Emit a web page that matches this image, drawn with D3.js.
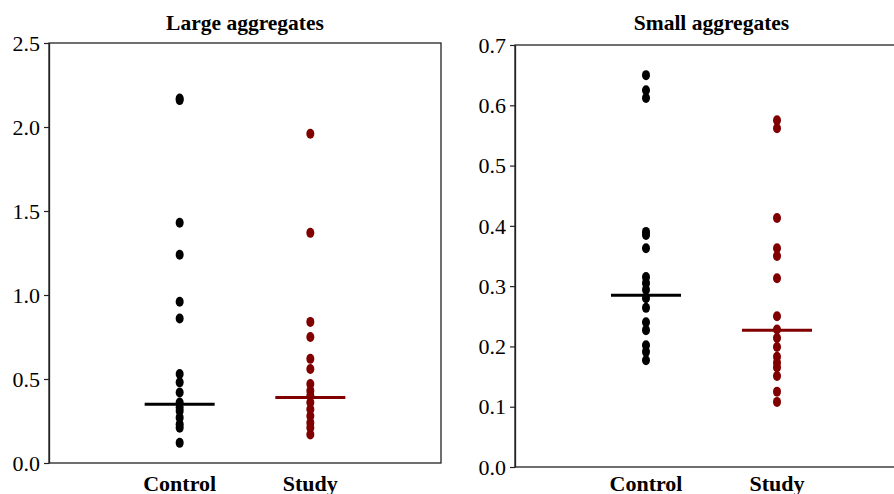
<!DOCTYPE html>
<html>
<head>
<meta charset="utf-8">
<script src="https://cdn.jsdelivr.net/npm/d3@7"></script>
<style>
  body { margin: 0; background: #fff; }
  svg { display: block; }
  svg text { font-family: "Liberation Serif", "Times New Roman", Times, "DejaVu Serif", serif; fill: #000; }
  .title, .cat { font-weight: bold; }
</style>
</head>
<body>
<div id="canvas"></div>
<script>
// categories on the x axis
var groups = ['Control', 'Study'];

// Large aggregates
var largeControl = [2.17, 2.16, 1.43, 1.24, 0.96, 0.86, 0.53, 0.48, 0.42, 0.36, 0.33, 0.31, 0.27, 0.23, 0.21, 0.12];
var largeStudy   = [1.96, 1.37, 0.84, 0.75, 0.62, 0.56, 0.47, 0.43, 0.40, 0.36, 0.32, 0.28, 0.24, 0.21, 0.17];
var largeLines   = [0.35, 0.39];
var largeTicks   = [0, 0.5, 1, 1.5, 2, 2.5];

// Small aggregates
var smallControl = [0.65, 0.625, 0.612, 0.39, 0.385, 0.363, 0.315, 0.305, 0.294, 0.28, 0.264, 0.24, 0.227, 0.202, 0.191, 0.177];
var smallStudy   = [0.575, 0.562, 0.413, 0.363, 0.35, 0.313, 0.25, 0.228, 0.214, 0.199, 0.183, 0.173, 0.165, 0.151, 0.125, 0.108];
var smallLines   = [0.285, 0.227];
var smallTicks   = [0, 0.1, 0.2, 0.3, 0.4, 0.5, 0.6, 0.7];

var colors = ['#000000', '#800000'];
var serif = '"Liberation Serif", "Times New Roman", Times, "DejaVu Serif", serif';

var svg = d3.select('#canvas').append('svg')
    .attr('width', 894).attr('height', 494);

function panel(opt) {
    var x0 = opt.x, y0 = opt.y, w = opt.w, h = opt.h;
    var g = svg.append('g').attr('transform', 'translate(' + x0 + ',' + y0 + ')');

    var x = d3.scalePoint().domain(groups).range([0, w]).padding(1);
    var y = d3.scaleLinear().domain([0, opt.max]).range([h, 0]);

    // frame
    g.append('rect')
        .attr('width', w).attr('height', h)
        .attr('fill', 'none').attr('stroke', '#222').attr('stroke-width', 1.3);

    // y axis
    var yAxis = g.append('g')
        .call(d3.axisLeft(y).tickValues(opt.ticks).tickFormat(d3.format('.1f')).tickSizeInner(5).tickSizeOuter(0));
    yAxis.attr('font-family', null).attr('font-size', null);
    yAxis.select('.domain').attr('stroke', '#222').attr('stroke-width', 1.3);
    yAxis.selectAll('.tick line').attr('stroke', '#222').attr('stroke-width', 1.2);
    yAxis.selectAll('.tick text')
        .attr('x', -9).attr('dy', '0.33em')
        .style('font-size', '22px').style('font-family', serif).attr('fill', '#000');

    // x labels
    g.selectAll('.cat').data(groups).enter().append('text')
        .attr('class', 'cat')
        .attr('x', function(d){ return x(d); })
        .attr('y', 491 - y0)
        .attr('text-anchor', 'middle')
        .style('font-size', '22px').style('font-family', serif)
        .text(function(d){ return d; });

    // title
    g.append('text').attr('class', 'title')
        .attr('x', w / 2).attr('y', 30 - y0)
        .attr('text-anchor', 'middle')
        .style('font-size', '21.5px').style('font-family', serif)
        .text(opt.title);

    // dots
    opt.series.forEach(function(vals, i){
        g.selectAll('.dot' + i).data(vals).enter().append('ellipse')
            .attr('class', 'dot' + i)
            .attr('cx', x(groups[i]))
            .attr('cy', function(d){ return y(d); })
            .attr('rx', 4).attr('ry', 5)
            .attr('fill', colors[i]);
    });

    // centre lines
    g.selectAll('.mid').data(opt.lines).enter().append('line')
        .attr('class', 'mid')
        .attr('x1', function(d, i){ return x(groups[i]) - 35; })
        .attr('x2', function(d, i){ return x(groups[i]) + 35; })
        .attr('y1', function(d){ return y(d); })
        .attr('y2', function(d){ return y(d); })
        .attr('stroke', function(d, i){ return colors[i]; })
        .attr('stroke-width', 3);
}

panel({x: 49, y: 43, w: 392, h: 420, max: 2.5, ticks: largeTicks,
       series: [largeControl, largeStudy], lines: largeLines, title: 'Large aggregates'});
panel({x: 515, y: 45, w: 393, h: 422, max: 0.7, ticks: smallTicks,
       series: [smallControl, smallStudy], lines: smallLines, title: 'Small aggregates'});
</script>
</body>
</html>
